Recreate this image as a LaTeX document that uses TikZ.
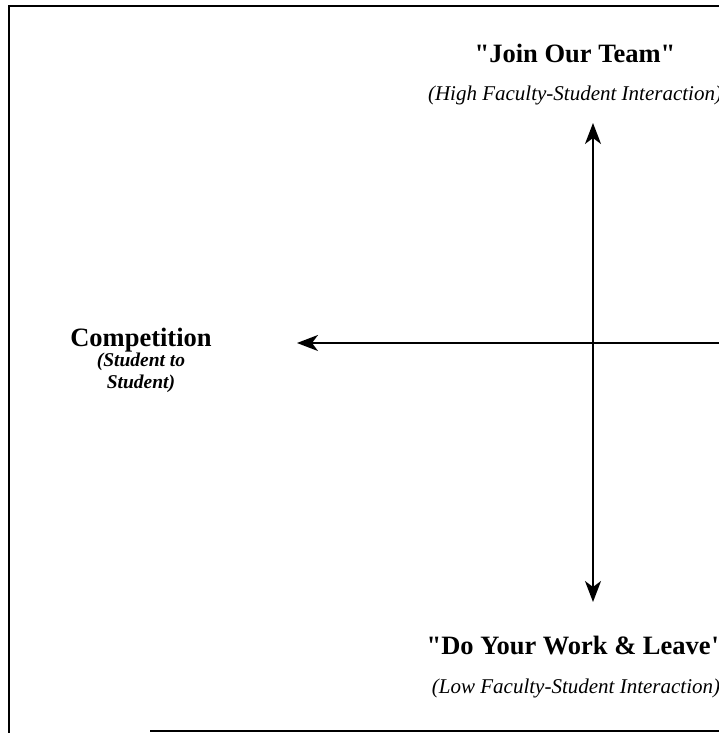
\documentclass[tikz,border=0pt]{standalone}
\usepackage{fontspec}
\setmainfont{Liberation Serif}
\usetikzlibrary{arrows.meta}

\begin{document}
\begin{tikzpicture}[x=1pt,y=-1pt,
    axis/.style={line width=1.8pt},
    pole/.style={font=\fontsize{26.5}{30}\selectfont\bfseries,inner sep=0},
    note/.style={font=\fontsize{21}{22}\selectfont\itshape,inner sep=0,align=center}]
        \useasboundingbox (0,0) rectangle (719,733);
        % frame, open on the right
        \draw[line width=1.2pt] (760,6) -- (9,6) -- (9,733);
        \draw[line width=1.2pt] (150,731) -- (760,731);
        % labels at the ends of the axes
        \node[pole] (join) at (575,53) {\textquotedbl Join Our Team\textquotedbl};
        \node[note] (high) at (575,95) {(High Faculty-Student Interaction)};
        \node[pole] (comp) at (141,340) {Competition};
        \node[note,font=\fontsize{19.5}{21.5}\selectfont\bfseries\itshape] (s2s) at (141,373) {(Student to\\Student)};
        \node[pole] (leave) at (576,645) {\textquotedbl Do Your Work \& Leave\textquotedbl};
        \node[note] (low) at (576,688) {(Low Faculty-Student Interaction)};
        % axes
        \coordinate (top) at (593,123);
        \coordinate (bottom) at (593,602);
        \coordinate (west) at (297,343);
        \coordinate (east) at (760,343);
        \draw[axis,{Stealth[length=21pt,width=16pt,inset=6pt]}-{Stealth[length=21pt,width=16pt,inset=6pt]}] (top) -- (bottom);
        \draw[axis,-{Stealth[length=21pt,width=16pt,inset=6pt]}] (east) -- (west);
      \end{tikzpicture}
\end{document}
